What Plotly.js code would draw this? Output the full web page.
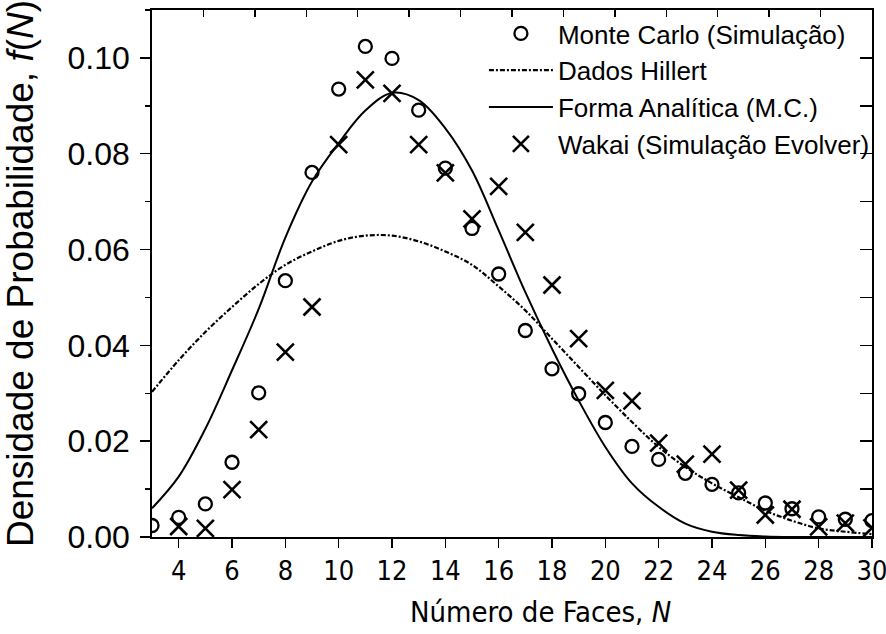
<!DOCTYPE html>
<html>
<head>
<meta charset="utf-8">
<script src="https://cdn.plot.ly/plotly-3.0.1.min.js"></script>
<style>
  html, body { margin: 0; padding: 0; background: #ffffff; }
  #chart { width: 886px; height: 634px; }
</style>
</head>
<body>
<div id="chart"></div>
<script>
// ---- Data ----
const nMonteCarlo = [3,4,5,6,7,8,9,10,11,12,13,14,15,16,17,18,19,20,21,22,23,24,25,26,27,28,29,30];
const monteCarlo  = [0.0024,0.0041,0.0069,0.0156,0.0301,0.0535,0.0761,0.0935,0.1024,0.0999,0.0891,0.0770,0.0644,0.0549,0.0431,0.0351,0.0299,0.0239,0.0189,0.0162,0.0133,0.0110,0.0092,0.0071,0.0059,0.0042,0.0037,0.0034];

const nWakai = [4,5,6,7,8,9,10,11,12,13,14,15,16,17,18,19,20,21,22,23,24,25,26,27,28,29,30];
const wakai  = [0.0022,0.0018,0.0099,0.0224,0.0386,0.0480,0.0819,0.0954,0.0926,0.0819,0.0760,0.0664,0.0732,0.0636,0.0526,0.0414,0.0306,0.0284,0.0196,0.0152,0.0173,0.0098,0.0046,0.0058,0.0021,0.0029,0.0019];

const nCurve = [3,4,5,6,7,8,9,10,11,12,13,14,15,16,17,18,19,20,21,22,23,24,25,26,27,28,29,30];
const hillert = [0.0303,0.0369,0.0428,0.0480,0.0528,0.0568,0.0596,0.0618,0.0629,0.0629,0.0617,0.0596,0.0568,0.0523,0.0473,0.0414,0.0355,0.0296,0.0240,0.0188,0.0146,0.0112,0.0083,0.0055,0.0034,0.0018,0.0011,0.0006];
const analitica = [0.0060,0.0126,0.0226,0.0348,0.0476,0.0625,0.0742,0.0822,0.0890,0.0927,0.0912,0.0853,0.0765,0.0640,0.0511,0.0393,0.0285,0.0188,0.0112,0.0063,0.0028,0.0011,0.0004,0.0001,0,0,0,0];

const seriesNames = ['Monte Carlo (Simulação)','Dados Hillert','Forma Analítica (M.C.)','Wakai (Simulação Evolver)'];
const xTickVals = [4,6,8,10,12,14,16,18,20,22,24,26,28,30];
const xTitle = 'Número de Faces, <i>N</i>';
const yTitle = 'Densidade de Probabilidade, <i>f</i>(<i>N</i>)';

// ---- Styling ----
const FONT = "'Liberation Sans', Arial, sans-serif";
const NARROW = "'Liberation Sans Narrow', 'Arial Narrow', 'DejaVu Sans Condensed', 'Liberation Sans', sans-serif";

const traces = [
  {
    x: nMonteCarlo, y: monteCarlo, name: seriesNames[0], type: 'scatter', mode: 'markers',
    marker: { symbol: 'circle-open', size: 13, color: '#000', line: { width: 2.3, color: '#000' } }
  },
  {
    x: nCurve, y: hillert, name: seriesNames[1], type: 'scatter', mode: 'lines',
    line: { color: '#000', width: 2.2, dash: '5px,2px,2px,2px', shape: 'spline', smoothing: 1 }
  },
  {
    x: nCurve, y: analitica, name: seriesNames[2], type: 'scatter', mode: 'lines',
    line: { color: '#000', width: 2, shape: 'spline', smoothing: 1 }
  },
  {
    x: nWakai, y: wakai, name: seriesNames[3], type: 'scatter', mode: 'markers',
    marker: { symbol: 'x-thin-open', size: 17, color: '#000', line: { width: 2.6, color: '#000' } }
  },
  { x: [], y: [], xaxis: 'x2', yaxis: 'y2', showlegend: false, hoverinfo: 'skip', type: 'scatter', mode: 'markers' }
];

const layout = {
  width: 886, height: 634,
  margin: { l: 152, r: 14, t: 10, b: 97, pad: 0 },
  paper_bgcolor: '#fff', plot_bgcolor: '#fff',
  font: { family: FONT, color: '#000' },
  showlegend: true,
  legend: {
    x: 0.461, y: 1.0, xanchor: 'left', yanchor: 'top',
    bgcolor: 'rgba(0,0,0,0)', borderwidth: 0,
    font: { family: FONT, size: 26, color: '#000' },
    itemwidth: 64, tracegroupgap: 0
  },
  xaxis: {
    range: [2.999, 30.001], tickvals: xTickVals, ticktext: xTickVals.map(String),
    ticks: 'outside', ticklen: 9, tickwidth: 1.5, tickcolor: '#000',
    showline: true, linewidth: 1.8, linecolor: '#000', mirror: false,
    showgrid: false, zeroline: false, ticklabeloverflow: 'allow',
    tickfont: { family: NARROW, size: 27, color: '#000' }
  },
  yaxis: {
    range: [0, 0.11], tick0: 0, dtick: 0.02, tickformat: '.2f',
    ticks: 'outside', ticklen: 10, tickwidth: 1.5, tickcolor: '#000',
    minor: { dtick: 0.01, ticks: 'outside', ticklen: 5, tickwidth: 1.5, tickcolor: '#000' },
    showline: true, linewidth: 1.8, linecolor: '#000', mirror: false,
    showgrid: false, zeroline: false, ticklabelstandoff: 4,
    tickfont: { family: FONT, size: 32, color: '#000' },
    title: { text: yTitle, font: { family: FONT, size: 37, color: '#000' }, standoff: 27 }
  },
  xaxis2: {
    overlaying: 'x', side: 'top', anchor: 'y', range: [0, 14], dtick: 1, tick0: 0,
    ticks: 'inside', ticklen: 7, tickwidth: 1.5, tickcolor: '#000', showticklabels: false,
    showline: true, linewidth: 1.8, linecolor: '#000', showgrid: false, zeroline: false
  },
  yaxis2: {
    overlaying: 'y', side: 'right', anchor: 'x', range: [0, 0.11], dtick: 0.01, tick0: 0,
    ticks: 'inside', ticklen: 12, tickwidth: 1.5, tickcolor: '#000', showticklabels: false,
    showline: true, linewidth: 1.8, linecolor: '#000', showgrid: false, zeroline: false
  },
  annotations: [
    {
      text: xTitle, xref: 'paper', yref: 'paper', x: 0.540, y: -0.142,
      xanchor: 'center', yanchor: 'middle', showarrow: false,
      font: { family: NARROW, size: 29, color: '#000' }
    }
  ]
};

Plotly.newPlot('chart', traces, layout, { displayModeBar: false, staticPlot: true });
</script>
</body>
</html>
